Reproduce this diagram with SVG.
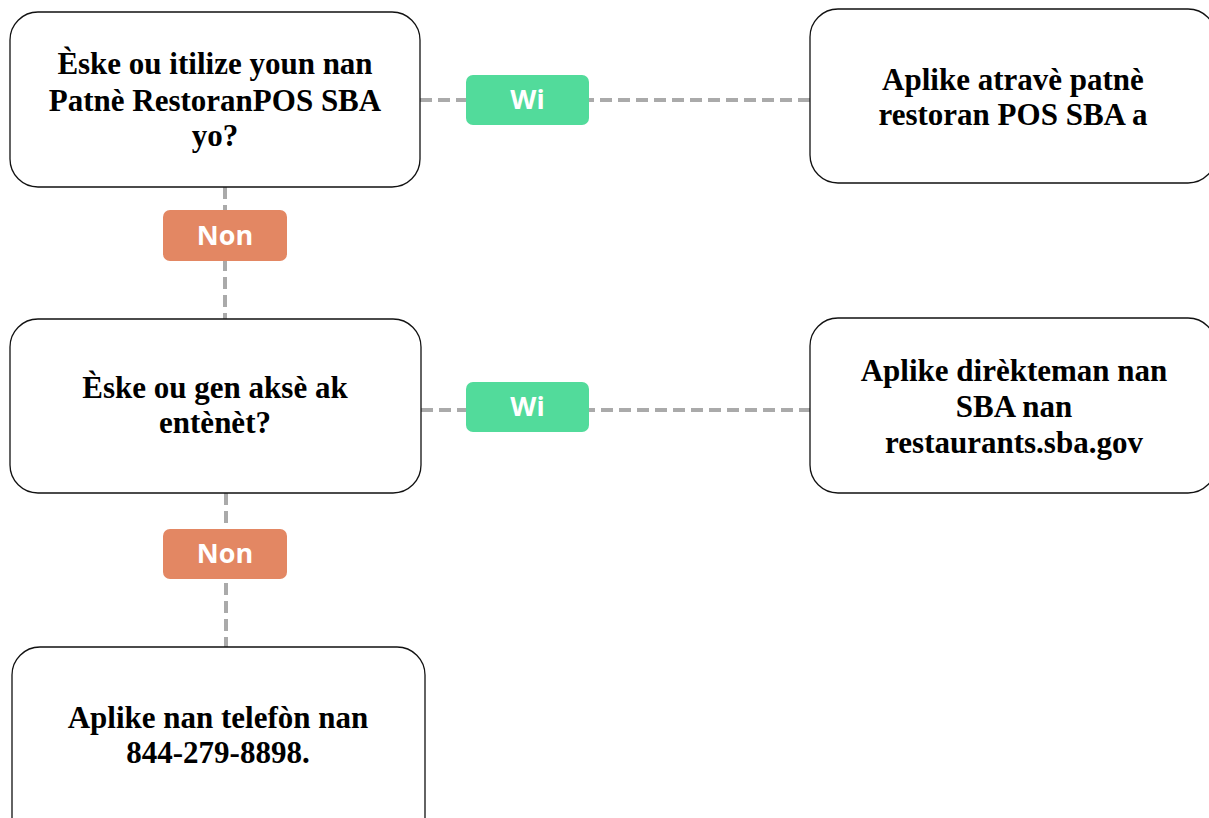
<svg xmlns="http://www.w3.org/2000/svg" width="1209" height="818" viewBox="0 0 1209 818">
<style>
.node rect{fill:#fff;stroke:#111;stroke-width:1.3}
.node text{font-family:"Liberation Serif","Times New Roman",serif;font-weight:bold;font-size:31px;fill:#000;text-anchor:middle}
.conn line{stroke:#aaa;stroke-width:4;stroke-dasharray:12 6;fill:none}
.lbl text{font-family:"Open Sans","Noto Sans",sans-serif;font-weight:bold;font-size:27px;fill:#fff;text-anchor:middle}
.yes rect{fill:#52db9b}
.no rect{fill:#e38763}
</style>
<rect width="1209" height="818" fill="#fff"/>
<g id="connectors" class="conn">
<line x1="420" y1="100" x2="810" y2="100"/>
<line x1="421" y1="410" x2="810" y2="410"/>
<line x1="225" y1="187" x2="225" y2="319"/>
<line x1="226" y1="493" x2="226" y2="647"/>
</g>
<g id="n1" class="node">
<rect x="10" y="12" width="410" height="175" rx="28"/>
<text x="215" y="74">Èske ou itilize youn nan</text>
<text x="215" y="111">Patnè RestoranPOS SBA</text>
<text x="215" y="146">yo?</text>
</g>
<g id="n2" class="node">
<rect x="810" y="9" width="406" height="174" rx="28"/>
<text x="1013" y="90">Aplike atravè patnè</text>
<text x="1013" y="125">restoran POS SBA a</text>
</g>
<g id="n3" class="node">
<rect x="10" y="319" width="411" height="174" rx="28"/>
<text x="215" y="398">Èske ou gen aksè ak</text>
<text x="215" y="433">entènèt?</text>
</g>
<g id="n4" class="node">
<rect x="810" y="318" width="406" height="175" rx="28"/>
<text x="1014" y="381">Aplike dirèkteman nan</text>
<text x="1014" y="417">SBA nan</text>
<text x="1014" y="453">restaurants.sba.gov</text>
</g>
<g id="n5" class="node">
<rect x="12" y="647" width="413" height="200" rx="28"/>
<text x="218" y="728">Aplike nan telefòn nan</text>
<text x="218" y="763">844-279-8898.</text>
</g>
<g id="l1" class="lbl yes">
<rect x="466" y="75" width="123" height="50" rx="7"/>
<text x="527.5" y="109">Wi</text>
</g>
<g id="l2" class="lbl yes">
<rect x="466" y="382" width="123" height="50" rx="7"/>
<text x="527.5" y="416">Wi</text>
</g>
<g id="l3" class="lbl no">
<rect x="163" y="210" width="124" height="51" rx="7"/>
<text x="225" y="245">Non</text>
</g>
<g id="l4" class="lbl no">
<rect x="163" y="529" width="124" height="50" rx="7"/>
<text x="225" y="563">Non</text>
</g>
</svg>
